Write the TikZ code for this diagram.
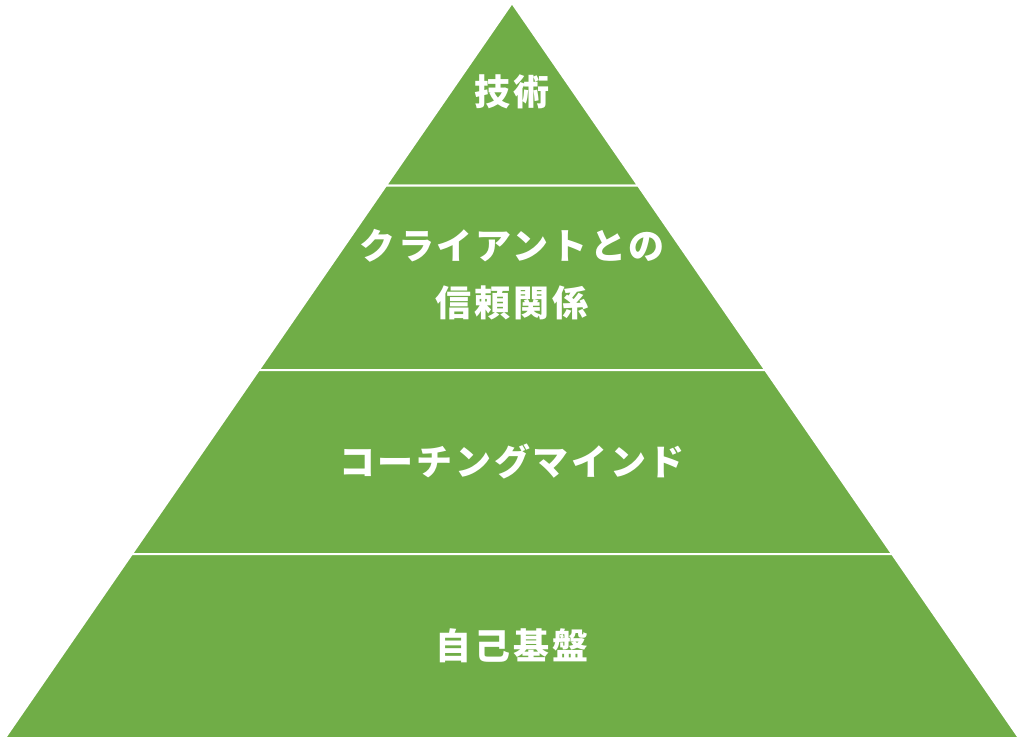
\documentclass[tikz,border=0pt]{standalone}
\usepackage{fontspec}
\newfontfamily\jpfont{Noto Sans CJK JP}[LetterSpace=7.5]
\definecolor{layergreen}{HTML}{70AD47}

\tikzset{
  layer/.style={fill=layergreen, draw=white, line width=2pt, line join=miter},
  tag/.style={text=white, font=\jpfont\bfseries\fontsize{36}{57}\selectfont, align=center}
}

\begin{document}
\begin{tikzpicture}[x=1pt, y=-1pt]
            \useasboundingbox (0,0) rectangle (1024,741);
            % pyramid corners at each level
            \coordinate (a0) at (512,3);
            \coordinate (l1) at (386,185.5); \coordinate (r1) at (638,185.5);
            \coordinate (l2) at (258.8,370); \coordinate (r2) at (765.2,370);
            \coordinate (l3) at (131.9,554); \coordinate (r3) at (892.1,554);
            \coordinate (l4) at (5,738);     \coordinate (r4) at (1019,738);

            \fill[layergreen] (a0) -- (r4) -- (l4) -- cycle;
            \draw[layer] (a0) -- (r1) -- (l1) -- cycle;
            \draw[layer] (l1) -- (r1) -- (r2) -- (l2) -- cycle;
            \draw[layer] (l2) -- (r2) -- (r3) -- (l3) -- cycle;
            \draw[layer] (l3) -- (r3) -- (r4) -- (l4) -- cycle;

            \node[tag] (skill) at (512,92) {技術};
            \node[tag] (trust) at (512,275) {クライアントとの\\信頼関係};
            \node[tag] (mind) at (512,461) {コーチングマインド};
            \node[tag] (base) at (512,646) {自己基盤};
        \end{tikzpicture}
\end{document}
